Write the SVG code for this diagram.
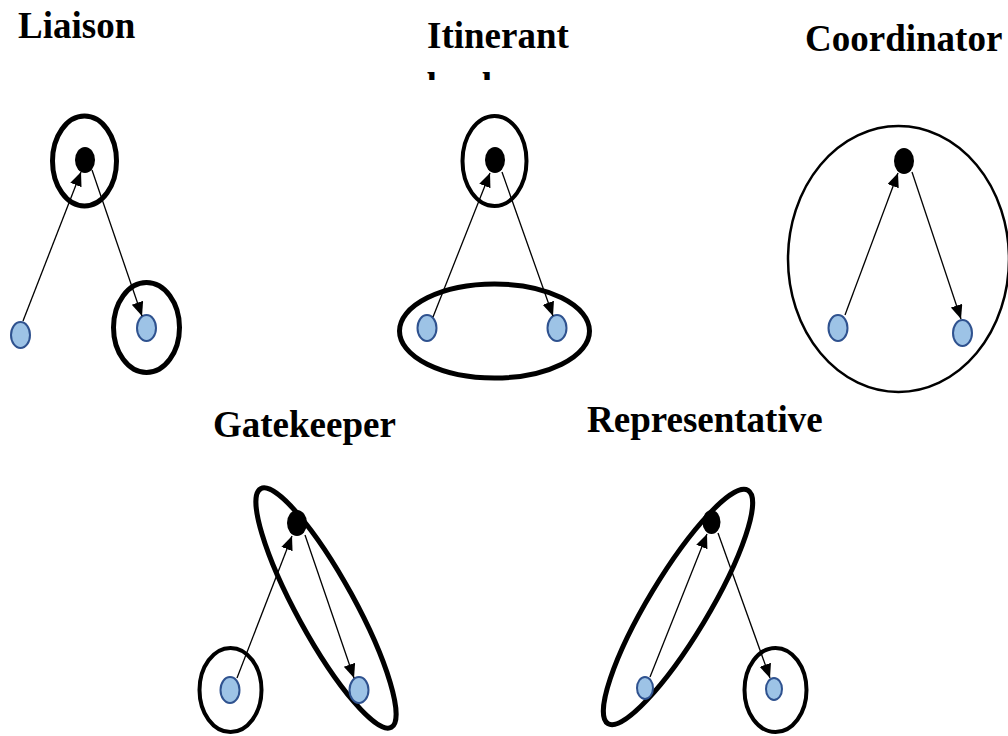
<svg xmlns="http://www.w3.org/2000/svg" width="1008" height="736" viewBox="0 0 1008 736">
<style>
.title{font-family:"Liberation Serif","Times New Roman",serif;font-weight:bold;font-size:37px;fill:#000}
.hub{fill:#000;stroke:none}
.leaf{fill:#9DC3E6;stroke:#2F528F;stroke-width:2}
.ring{fill:none;stroke:#000}
.arrow{stroke:#000;stroke-width:1.3;fill:none;marker-end:url(#ah)}
</style>
<defs>
<marker id="ah" markerUnits="userSpaceOnUse" markerWidth="16" markerHeight="14" refX="14" refY="6" orient="auto">
<path d="M0,0 L14,6 L0,12 z" fill="#000"/>
</marker>
<clipPath id="clipBroker"><rect x="400" y="55" width="200" height="25"/></clipPath>
</defs>
<rect width="1008" height="736" fill="#fff"/>

<g id="liaison">
<text class="title" x="18" y="38">Liaison</text>
<ellipse class="ring" cx="84.5" cy="161" rx="32" ry="45" stroke-width="5"/>
<ellipse class="ring" cx="146.5" cy="327.5" rx="33" ry="45" stroke-width="5"/>
<ellipse class="hub" cx="85" cy="160" rx="10" ry="13"/>
<ellipse class="leaf" cx="20.5" cy="335" rx="9.5" ry="13"/>
<ellipse class="leaf" cx="146.5" cy="328" rx="9.5" ry="13"/>
</g>

<g id="itinerant-broker">
<text class="title" x="427" y="48">Itinerant</text>
<text class="title" x="427" y="99" clip-path="url(#clipBroker)">broker</text>
<ellipse class="ring" cx="494.5" cy="161" rx="32" ry="45" stroke-width="4"/>
<ellipse class="ring" cx="494.5" cy="331" rx="95" ry="47" stroke-width="5"/>
<ellipse class="hub" cx="495" cy="160" rx="10" ry="13"/>
<ellipse class="leaf" cx="427" cy="328" rx="9.5" ry="13"/>
<ellipse class="leaf" cx="557" cy="328" rx="9.5" ry="13"/>
</g>

<g id="coordinator">
<text class="title" x="805" y="51">Coordinator</text>
<ellipse class="ring" cx="898.5" cy="259" rx="110.5" ry="133" stroke-width="2.5"/>
<ellipse class="hub" cx="904" cy="161" rx="10" ry="13"/>
<ellipse class="leaf" cx="838" cy="328" rx="9.5" ry="13"/>
<ellipse class="leaf" cx="962.5" cy="333" rx="9.5" ry="13"/>
</g>

<g id="gatekeeper">
<text class="title" x="213" y="437">Gatekeeper</text>
<ellipse class="ring" cx="0" cy="0" rx="136" ry="29" stroke-width="5" transform="translate(326 608) rotate(61.3)"/>
<ellipse class="ring" cx="230.5" cy="690" rx="31" ry="42" stroke-width="4"/>
<ellipse class="hub" cx="297" cy="523" rx="10" ry="13"/>
<ellipse class="leaf" cx="230" cy="690" rx="9.5" ry="13"/>
<ellipse class="leaf" cx="359" cy="690" rx="9.5" ry="13"/>
</g>

<g id="representative">
<text class="title" x="587" y="432">Representative</text>
<ellipse class="ring" cx="0" cy="0" rx="136" ry="30" stroke-width="5" transform="translate(678 607) rotate(-59)"/>
<ellipse class="ring" cx="775.5" cy="690" rx="31" ry="42" stroke-width="4"/>
<ellipse class="hub" cx="711.5" cy="522" rx="9" ry="12"/>
<ellipse class="leaf" cx="645" cy="688" rx="8" ry="11"/>
<ellipse class="leaf" cx="774" cy="689" rx="8" ry="11"/>
</g>

<g id="connectors">
<line class="arrow" x1="23" y1="321" x2="81" y2="172"/>
<line class="arrow" x1="92" y1="170" x2="142" y2="316"/>
<line class="arrow" x1="433" y1="317" x2="490" y2="173"/>
<line class="arrow" x1="502" y1="172" x2="553" y2="316"/>
<line class="arrow" x1="845" y1="315" x2="898" y2="173"/>
<line class="arrow" x1="912" y1="172" x2="961" y2="319"/>
<line class="arrow" x1="237" y1="678" x2="292" y2="536"/>
<line class="arrow" x1="305" y1="535" x2="354" y2="678"/>
<line class="arrow" x1="650" y1="677" x2="707" y2="534"/>
<line class="arrow" x1="718" y1="533" x2="770" y2="678"/>
</g>
</svg>
